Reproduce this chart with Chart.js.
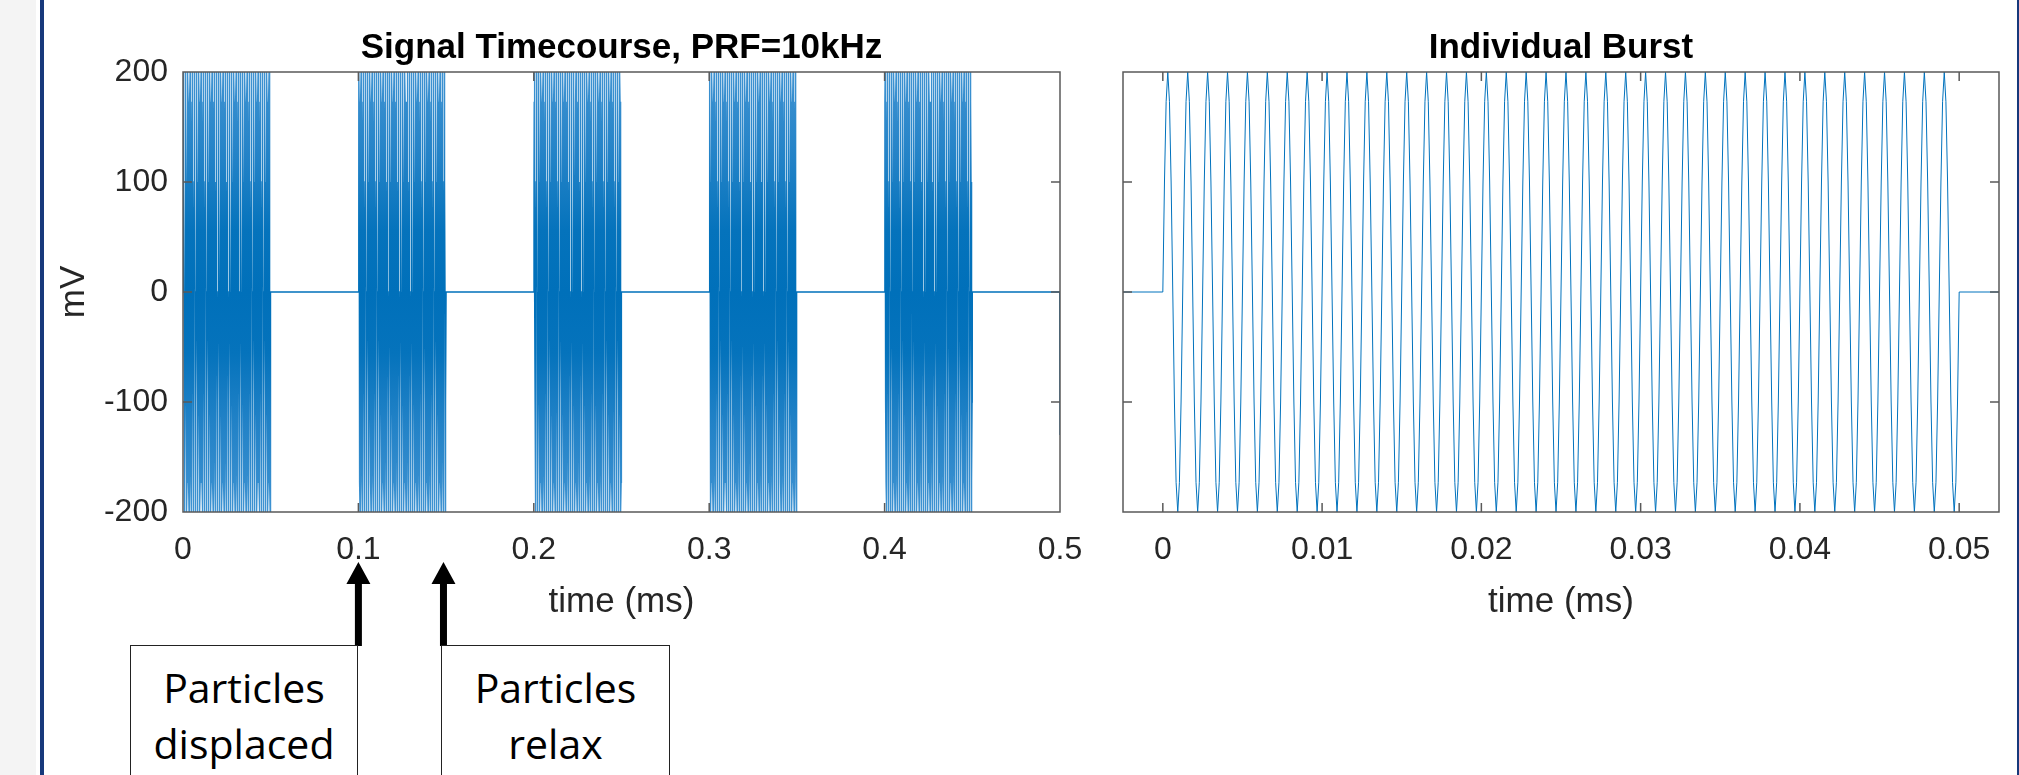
<!DOCTYPE html>
<html>
<head>
<meta charset="utf-8">
<script src="https://cdn.jsdelivr.net/npm/chart.js@4.4.1/dist/chart.umd.min.js"></script>
<style>
  body { margin: 0; width: 2019px; height: 775px; overflow: hidden; background: #fff; position: relative; }
  #side { position: absolute; left: 0; top: 0; width: 36px; height: 775px; background: #f4f4f4; }
  .rule { position: absolute; top: 0; height: 775px; background: #17397b; }
  canvas { position: absolute; top: 0; }
  #timecourse { left: 0; }
  #burst { left: 1090px; }
  .note {
    position: absolute; top: 645px; height: 160px; box-sizing: border-box;
    border: 1.5px solid #222; background: #fff; color: #000;
    font-family: "Open Sans", sans-serif; font-size: 41px; line-height: 56px;
    text-align: center; padding-top: 13px;
  }
</style>
</head>
<body>
<div id="side"></div>
<div class="rule" style="left:40px;width:4px"></div>
<div class="rule" style="left:2017px;width:2px"></div>
<canvas id="timecourse" width="1090" height="775"></canvas>
<canvas id="burst" width="929" height="775"></canvas>
<div class="note" style="left:130px;width:228px">Particles<br>displaced</div>
<div class="note" style="left:441px;width:229px">Particles<br>relax</div>
<script>
// values
const yTicksMv = [-200, -100, 0, 100, 200];
const timecourseTicksMs = [0, 0.1, 0.2, 0.3, 0.4, 0.5];
const burstTicksMs = [0, 0.01, 0.02, 0.03, 0.04, 0.05];
const burstViewMs = [-0.0025, 0.0525];

const burstStartsMs = [0, 0.1, 0.2, 0.3, 0.4];
const cyclesPerBurst = 40;
const cyclePeriodMs = 0.00125;   // 800 kHz carrier
const cycleSamplesMv = [0, 100, 173, 200, 173, 100, 0, -100, -173, -200, -173, -100];
const tailTimesMs = [0.4999, 0.5];
const tailValuesMv = [0, -130];
const arrowTimesMs = [0.1, 0.1485];

const FONT = '"Liberation Sans", Arial, sans-serif';
const tickFont = { family: FONT, size: 32 };
const labelFont = { family: FONT, size: 35 };

function burstPoints(start) {
    let pts = [];
    for (let c = 0; c < cyclesPerBurst; c++) {
        cycleSamplesMv.forEach((v, i) => {
            pts.push({ x: start + (c + i / cycleSamplesMv.length) * cyclePeriodMs, y: v });
        });
    }
    pts.push({ x: start + cyclesPerBurst * cyclePeriodMs, y: 0 });
    return pts;
}

let timecoursePoints = [];
burstStartsMs.forEach((s) => { timecoursePoints = timecoursePoints.concat(burstPoints(s)); });
tailTimesMs.forEach((t, i) => { timecoursePoints.push({ x: t, y: tailValuesMv[i] }); });

let burstData = [{ x: burstViewMs[0], y: 0 }]
    .concat(burstPoints(0))
    .concat([{ x: burstViewMs[1], y: 0 }]);

// box, inward ticks, title and annotation arrows in MATLAB style
const matlabAxes = {
    id: 'matlabAxes',
    afterDraw(chart, args, opts) {
        const { ctx, chartArea: a, scales: { x, y } } = chart;
        ctx.save();
        ctx.strokeStyle = '#5a5a5a';
        ctx.lineWidth = 1.5;
        ctx.beginPath();
        x.ticks.forEach((t) => {
            const px = x.getPixelForValue(t.value);
            ctx.moveTo(px, a.bottom); ctx.lineTo(px, a.bottom - 9);
            ctx.moveTo(px, a.top); ctx.lineTo(px, a.top + 9);
        });
        y.ticks.forEach((t) => {
            const py = y.getPixelForValue(t.value);
            ctx.moveTo(a.left, py); ctx.lineTo(a.left + 9, py);
            ctx.moveTo(a.right, py); ctx.lineTo(a.right - 9, py);
        });
        ctx.rect(a.left, a.top, a.width, a.height);
        ctx.stroke();

        ctx.fillStyle = '#000';
        ctx.font = 'bold 35px ' + FONT;
        ctx.textAlign = 'center';
        ctx.textBaseline = 'middle';
        ctx.fillText(opts.title, (a.left + a.right) / 2, a.top - 24);

        (opts.arrows || []).forEach((t) => {
            const px = x.getPixelForValue(t);
            ctx.beginPath();
            ctx.moveTo(px, a.bottom + 50);
            ctx.lineTo(px + 12, a.bottom + 72);
            ctx.lineTo(px + 3.5, a.bottom + 72);
            ctx.lineTo(px + 3.5, a.bottom + 134);
            ctx.lineTo(px - 3.5, a.bottom + 134);
            ctx.lineTo(px - 3.5, a.bottom + 72);
            ctx.lineTo(px - 12, a.bottom + 72);
            ctx.closePath();
            ctx.fill();
        });
        ctx.restore();
    }
};

function timeAxis(ticks, min, max) {
    return {
        type: 'linear', min: min, max: max,
        afterBuildTicks: (s) => { s.ticks = ticks.map((v) => ({ value: v })); },
        afterFit: (s) => {
            s.height = 263;
            // labels may hang past the box; the layout padding already leaves room
            s.paddingLeft = 0;
            s.paddingRight = 0;
        },
        grid: { display: false, drawTicks: false },
        border: { display: false },
        ticks: { color: '#262626', padding: 19, font: tickFont, maxRotation: 0, autoSkip: false,
                 callback: (v) => String(v) },
        title: { display: true, text: 'time (ms)', color: '#262626', font: labelFont,
                 padding: { top: 0, bottom: 152 } }
    };
}

function mvAxis(width, showLabels) {
    return {
        type: 'linear', min: -200, max: 200,
        afterBuildTicks: (s) => { s.ticks = yTicksMv.map((v) => ({ value: v })); },
        afterFit: (s) => { s.width = width; },
        grid: { display: false, drawTicks: false },
        border: { display: false },
        ticks: { display: showLabels, color: '#262626', padding: 15, font: tickFont },
        title: { display: showLabels, text: 'mV', color: '#262626', font: labelFont,
                 padding: { top: 53, bottom: 0 } }
    };
}

function denseBlue(context) {
    const area = context.chart.chartArea;
    if (!area) return '#0072BD';
    const g = context.chart.ctx.createLinearGradient(0, area.top, 0, area.bottom);
    g.addColorStop(0, '#3f93d2');
    g.addColorStop(0.2, '#2282c7');
    g.addColorStop(0.36, '#0573bc');
    g.addColorStop(0.5, '#0070ba');
    g.addColorStop(0.64, '#0573bc');
    g.addColorStop(0.8, '#2282c7');
    g.addColorStop(1, '#3f93d2');
    return g;
}

new Chart(document.getElementById('timecourse'), {
    type: 'line',
    data: {
        datasets: [{
            data: timecoursePoints,
            borderColor: denseBlue,
            borderWidth: 1.4,
            pointRadius: 0,
            tension: 0
        }]
    },
    options: {
        responsive: false,
        animation: false,
        events: [],
        layout: { padding: { top: 72, right: 30, bottom: 0, left: 0 } },
        plugins: {
            legend: { display: false },
            tooltip: { enabled: false },
            matlabAxes: { title: 'Signal Timecourse, PRF=10kHz', arrows: arrowTimesMs }
        },
        scales: {
            x: timeAxis(timecourseTicksMs, 0, 0.5),
            y: mvAxis(183, true)
        }
    },
    plugins: [matlabAxes]
});

new Chart(document.getElementById('burst'), {
    type: 'line',
    data: {
        datasets: [{
            data: burstData,
            borderColor: '#0072BD',
            borderWidth: 1,
            pointRadius: 0,
            tension: 0
        }]
    },
    options: {
        responsive: false,
        animation: false,
        events: [],
        layout: { padding: { top: 72, right: 20, bottom: 0, left: 0 } },
        plugins: {
            legend: { display: false },
            tooltip: { enabled: false },
            matlabAxes: { title: 'Individual Burst' }
        },
        scales: {
            x: timeAxis(burstTicksMs, burstViewMs[0], burstViewMs[1]),
            y: mvAxis(33, false)
        }
    },
    plugins: [matlabAxes]
});
</script>
</body>
</html>
